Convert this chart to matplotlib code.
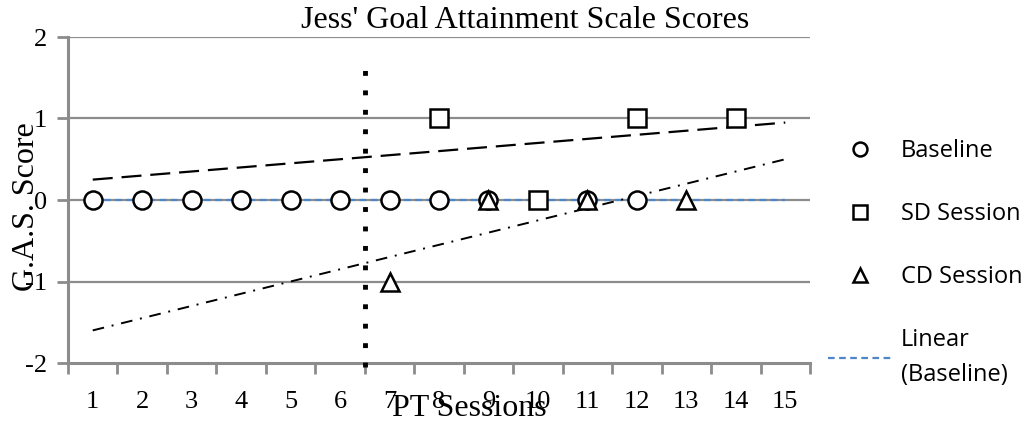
import numpy as np
import matplotlib
matplotlib.use("Agg")
import matplotlib.pyplot as plt
from matplotlib.lines import Line2D

# data
sessions = list(range(1, 16))
baseline_x = [1, 2, 3, 4, 5, 6, 7, 8, 9, 11, 12]
baseline_y = [0, 0, 0, 0, 0, 0, 0, 0, 0, 0, 0]
sd_x = [8, 10, 12, 14]
sd_y = [1, 0, 1, 1]
cd_x = [7, 9, 11, 13]
cd_y = [-1, 0, 0, 0]
phase_change = 6.5

SERIF = "Liberation Serif"
SANS = "Open Sans"
GRID = "#8c8c8c"
BLUE = "#4f86c6"

fig = plt.figure(figsize=(10.29, 4.23), dpi=100)
ax = fig.add_axes([68 / 1029, 1 - 363 / 423, (810 - 68) / 1029, (363 - 37) / 423])

ax.set_xlim(0.5, 15.5)
ax.set_ylim(-2, 2)
ax.set_yticks([-2, -1, 0, 1, 2])
ax.set_yticklabels(["-2", "-1", "0", "1", "2"], fontfamily=SERIF, fontsize=19)
ax.set_xticks(np.arange(0.5, 15.6, 1))
ax.set_xticklabels([])
ax.set_xticks(sessions, minor=True)
ax.set_xticklabels([str(s) for s in sessions], minor=True, fontfamily=SERIF, fontsize=19)
ax.tick_params(axis="x", which="major", length=8, width=2, color=GRID, direction="out")
ax.tick_params(axis="x", which="minor", length=0, pad=20)
ax.tick_params(axis="y", length=8, width=2, color=GRID, pad=7)

for y in [-1, 0, 1, 2]:
    ax.axhline(y, color=GRID, lw=1.6, zorder=0)
for side in ["top", "right"]:
    ax.spines[side].set_visible(False)
for side in ["left", "bottom"]:
    ax.spines[side].set_color(GRID)
    ax.spines[side].set_linewidth(2.2)

# trend lines
xs = np.array([1, 15])
b = np.polyfit(baseline_x, baseline_y, 1)
ax.plot(xs, np.polyval(b, xs), color=BLUE, lw=1.6, ls=(0, (3, 2)), zorder=2)
s = np.polyfit(sd_x, sd_y, 1)
ax.plot(xs, np.polyval(s, xs), color="black", lw=1.6, ls=(0, (9, 4)), zorder=2)
c = np.polyfit(cd_x, cd_y, 1)
ax.plot(xs, np.polyval(c, xs), color="black", lw=1.4, ls=(0, (6, 4, 1, 4)), zorder=2)

# phase change line
ax.plot([phase_change, phase_change], [-2.05, 1.6], color="black", lw=3.5,
        ls=(0, (1, 3)), clip_on=False, zorder=3)

mk = dict(ls="none", ms=13, mew=1.8, mec="black", mfc="white", zorder=4)
ax.plot(baseline_x, baseline_y, marker="o", **mk)
ax.plot(sd_x, sd_y, marker="s", **mk)
ax.plot(cd_x, cd_y, marker="^", **mk)

fig.text(525 / 1029, 1 - 21 / 423, "Jess' Goal Attainment Scale Scores",
         ha="center", va="center", fontfamily=SERIF, fontsize=23)
fig.text(469 / 1029, 1 - 408 / 423, "PT Sessions", ha="center", va="center",
         fontfamily=SERIF, fontsize=23)
fig.text(27 / 1029, 1 - 207 / 423, "G.A.S. Score", ha="center", va="center",
         rotation=90, fontfamily=SERIF, fontsize=23)

handles = [
    Line2D([], [], ls="none", marker="o", ms=10, mew=1.8, mec="black", mfc="white"),
    Line2D([], [], ls="none", marker="s", ms=10, mew=1.8, mec="black", mfc="white"),
    Line2D([], [], ls="none", marker="^", ms=10, mew=1.8, mec="black", mfc="white"),
    Line2D([], [], color=BLUE, lw=1.6, ls=(0, (3, 2))),
]
labels = ["Baseline", "SD Session", "CD Session", "Linear\n(Baseline)"]
leg = fig.legend(handles, labels, loc="upper left", bbox_to_anchor=(828 / 1029, 1 - 139 / 423),
                 frameon=False, prop={"family": SANS, "size": 17}, handlelength=2.75,
                 labelspacing=1.65, handletextpad=0.35, borderpad=0, borderaxespad=0)
for t in leg.get_texts():
    t.set_linespacing(1.6)

fig.savefig("out.png", dpi=100)
